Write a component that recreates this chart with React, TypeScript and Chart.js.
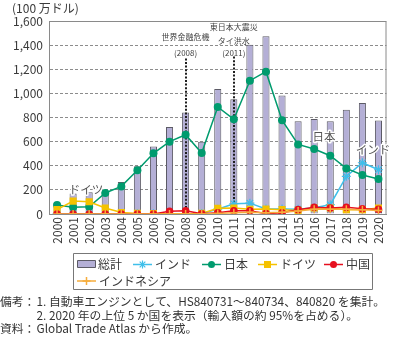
import React, { useEffect, useRef } from 'react';
import { Chart, registerables } from 'chart.js';

Chart.register(...registerables);

const years = ['2000','2001','2002','2003','2004','2005','2006','2007','2008','2009','2010','2011','2012','2013','2014','2015','2016','2017','2018','2019','2020'];
const total = [90, 170, 180, 193, 265, 395, 560, 722, 842, 600, 1036, 951, 1404, 1473, 983, 768, 788, 768, 865, 920, 776];
const india = [2, 2, 2, 2, 2, 2, 2, 3, 3, 5, 40, 85, 90, 41, 41, 40, 51, 77, 312, 425, 367];
const japan = [75, 55, 60, 174, 229, 362, 503, 600, 657, 506, 887, 785, 1105, 1180, 778, 577, 539, 483, 378, 323, 290];
const germany = [36, 107, 102, 50, 12, 5, 3, 2, 2, 5, 48, 50, 40, 41, 36, 30, 50, 50, 36, 36, 50];
const china = [0, 0, 0, 0, 0, 0, 0, 22, 27, 2, 10, 27, 27, 3, 10, 36, 55, 50, 55, 44, 38];
const indonesia = [0, 0, 0, 0, 0, 0, 0, 0, 0, 0, 5, 10, 15, 10, 15, 25, 40, 40, 40, 35, 30];
const yMin = 0;
const yMax = 1600;
const yStep = 200;

const seriesNames = ['総計', 'インド', '日本', 'ドイツ', '中国', 'インドネシア'];
const events = [
  { year: '2008', lines: ['世界金融危機', '(2008)'], top: 1290 },
  { year: '2011', lines: ['東日本大震災', 'タイ洪水', '(2011)'], top: 1305 },
];
const notes = [
  ['備考：', '1. 自動車エンジンとして、HS840731～840734、840820 を集計。'],
  ['', '2. 2020 年の上位 5 か国を表示（輸入額の約 95%を占める）。'],
  ['資料：', 'Global Trade Atlas から作成。'],
];

const FONT = '"Noto Sans CJK JP", "Noto Sans", sans-serif';
const TEXT = '#3a3a3a';
const C_BAR = '#b4afd6';
const C_BAR_BORDER = '#5c5b66';
const C_INDIA = '#3fbfea';
const C_JAPAN = '#009b6e';
const C_GER = '#f5c200';
const C_CHINA = '#e60f1e';
const C_INDO = '#f6ad3c';
const C_FRAME = '#8a8a8a';

function drawMarker(ctx: CanvasRenderingContext2D, style: string, x: number, y: number, r: number, color: string) {
  ctx.save();
  ctx.fillStyle = color;
  ctx.strokeStyle = color;
  ctx.lineWidth = 1.5;
  ctx.beginPath();
  if (style === 'circle') {
    ctx.arc(x, y, r, 0, Math.PI * 2);
    ctx.fill();
  } else if (style === 'rect') {
    ctx.rect(x - r, y - r, 2 * r, 2 * r);
    ctx.fill();
  } else if (style === 'star') {
    for (let k = 0; k < 4; k++) {
      const a = (k * Math.PI) / 4;
      ctx.moveTo(x - Math.cos(a) * r, y - Math.sin(a) * r);
      ctx.lineTo(x + Math.cos(a) * r, y + Math.sin(a) * r);
    }
    ctx.lineWidth = 1.2;
    ctx.stroke();
  } else if (style === 'cross') {
    ctx.moveTo(x - r, y);
    ctx.lineTo(x + r, y);
    ctx.moveTo(x, y - r);
    ctx.lineTo(x, y + r);
    ctx.stroke();
  }
  ctx.restore();
}

const overlayPlugin = {
  id: 'overlay',
  afterDatasetDraw(chart: any, args: any) {
    if (args.index !== 0) return;
    const { ctx, chartArea, scales } = chart;
    ctx.save();
    ctx.strokeStyle = '#1e1e1e';
    ctx.lineWidth = 2;
    ctx.setLineDash([2, 1.6]);
    events.forEach((ev) => {
      const i = years.indexOf(ev.year);
      const x = Math.round(scales.x.getPixelForValue(i));
      ctx.beginPath();
      ctx.moveTo(x, scales.y.getPixelForValue(ev.top));
      ctx.lineTo(x, chartArea.bottom);
      ctx.stroke();
    });
    ctx.restore();
  },
  afterDraw(chart: any) {
    const { ctx, chartArea, scales } = chart;
    ctx.save();
    // frame top/right
    ctx.strokeStyle = C_FRAME;
    ctx.lineWidth = 1;
    ctx.beginPath();
    ctx.moveTo(chartArea.left, chartArea.top + 0.5);
    ctx.lineTo(chartArea.right - 0.5, chartArea.top + 0.5);
    ctx.lineTo(chartArea.right - 0.5, chartArea.bottom);
    ctx.stroke();

    // unit label
    ctx.fillStyle = TEXT;
    ctx.font = `12px ${FONT}`;
    ctx.textAlign = 'left';
    ctx.textBaseline = 'middle';
    ctx.fillText('(100 万ドル)', 12, 8);

    // event labels
    ctx.font = `8px ${FONT}`;
    ctx.textAlign = 'center';
    ctx.fillStyle = '#444';
    const evY = [[37, 52.5], [27, 41, 52.5]];
    events.forEach((ev, k) => {
      const x = scales.x.getPixelForValue(years.indexOf(ev.year));
      ev.lines.forEach((t, j) => ctx.fillText(t, x, evY[k][j]));
    });

    // series labels
    ctx.font = `11.5px ${FONT}`;
    ctx.lineJoin = 'round';
    const labs: [string, number, number][] = [
      ['ドイツ', 86, 190],
      ['日本', 324, 137],
      ['インド', 373, 150],
    ];
    labs.forEach(([t, x, y]) => {
      ctx.strokeStyle = '#ffffff';
      ctx.lineWidth = 3;
      ctx.strokeText(t, x, y);
      ctx.fillStyle = '#555';
      ctx.fillText(t, x, y);
    });

    // legend box
    ctx.strokeStyle = '#777';
    ctx.lineWidth = 1;
    ctx.strokeRect(73.5, 253.5, 299, 36);
    ctx.font = `12px ${FONT}`;
    ctx.textAlign = 'left';
    ctx.fillStyle = TEXT;
    // bar swatch
    ctx.fillStyle = C_BAR;
    ctx.fillRect(77.5, 260.5, 18, 7);
    ctx.strokeStyle = C_BAR_BORDER;
    ctx.strokeRect(77.5, 260.5, 18, 7);
    ctx.fillStyle = TEXT;
    ctx.fillText(seriesNames[0], 98, 264.5);
    const items: [number, number, string, string, number, number][] = [
      [1, 133, C_INDIA, 'star', 264.5, 4],
      [2, 202, C_JAPAN, 'circle', 264.5, 3.5],
      [3, 258, C_GER, 'rect', 264.5, 3.5],
      [4, 324, C_CHINA, 'circle', 264.5, 3.5],
      [5, 77, C_INDO, 'cross', 281, 4],
    ];
    items.forEach(([idx, x, color, style, y, r]) => {
      ctx.strokeStyle = color;
      ctx.lineWidth = 1.5;
      ctx.beginPath();
      ctx.moveTo(x, y);
      ctx.lineTo(x + 19, y);
      ctx.stroke();
      drawMarker(ctx, style, x + 9.5, y, r, color);
      ctx.fillStyle = TEXT;
      ctx.fillText(seriesNames[idx], x + 22, y);
    });

    // notes
    ctx.font = `11.8px ${FONT}`;
    ctx.fillStyle = '#333';
    const ny = [302, 315.5, 328.5];
    notes.forEach(([a, b], k) => {
      if (a) ctx.fillText(a, 0, ny[k]);
      ctx.fillText(b, 36.5, ny[k]);
    });
    ctx.restore();
  },
};

export default function App() {
  const ref = useRef<HTMLCanvasElement | null>(null);
  useEffect(() => {
    if (!ref.current) return;
    const lineBase = { type: 'line' as const, borderWidth: 1.5, pointBorderWidth: 1.5, fill: false, tension: 0 };
    const chart = new Chart(ref.current, {
      type: 'bar',
      data: {
        labels: years,
        datasets: [
          { type: 'bar', label: seriesNames[0], data: total, backgroundColor: C_BAR, borderColor: C_BAR_BORDER, borderWidth: 1, barPercentage: 0.44, categoryPercentage: 1, order: 10 } as any,
          { ...lineBase, label: seriesNames[1], data: india, borderColor: C_INDIA, backgroundColor: C_INDIA, pointStyle: 'star', pointRadius: 4.5, pointBorderWidth: 1.2, order: 5 },
          { ...lineBase, label: seriesNames[2], data: japan, borderColor: C_JAPAN, backgroundColor: C_JAPAN, pointStyle: 'circle', pointRadius: 4, pointBorderWidth: 0, order: 4 },
          { ...lineBase, label: seriesNames[3], data: germany, borderColor: C_GER, backgroundColor: C_GER, pointStyle: 'rect', pointRadius: 5, pointBorderWidth: 0, order: 3 },
          { ...lineBase, label: seriesNames[4], data: china, borderColor: C_CHINA, backgroundColor: C_CHINA, pointStyle: 'circle', pointRadius: 3.8, pointBorderWidth: 0, order: 2 },
          { ...lineBase, label: seriesNames[5], data: indonesia, borderColor: C_INDO, backgroundColor: C_INDO, pointStyle: 'cross', pointRadius: 4, pointBorderWidth: 1.5, order: 1 },
        ],
      },
      options: {
        responsive: false,
        animation: false,
        devicePixelRatio: 1,
        layout: { padding: { top: 21, right: 1, left: 0, bottom: 0 } },
        plugins: { legend: { display: false }, tooltip: { enabled: false } },
        scales: {
          x: {
            offset: true,
            grid: { display: false, drawTicks: false },
            border: { display: true, color: C_FRAME, width: 1 },
            ticks: { autoSkip: false, maxRotation: 90, minRotation: 90, padding: 3, color: TEXT, font: { family: FONT, size: 12 } },
            afterFit: (s: any) => { s.height = 123; },
          },
          y: {
            min: yMin,
            max: yMax,
            grid: { color: '#8c8c8c', lineWidth: 1, drawTicks: false },
            border: { display: true, color: C_FRAME, width: 1, dash: [3, 2] },
            ticks: {
              stepSize: yStep,
              padding: 6,
              color: TEXT,
              font: { family: FONT, size: 12 },
              callback: (v: any) => Number(v).toLocaleString('en-US'),
            },
            afterFit: (s: any) => { s.width = 49; },
          },
        },
      },
      plugins: [overlayPlugin],
    } as any);
    return () => chart.destroy();
  }, []);
  return (
    <div style={{ position: 'absolute', left: 0, top: 0, width: 396, height: 337, background: '#fff' }}>
      <canvas ref={ref} width={396} height={337} style={{ display: 'block' }} />
    </div>
  );
}
